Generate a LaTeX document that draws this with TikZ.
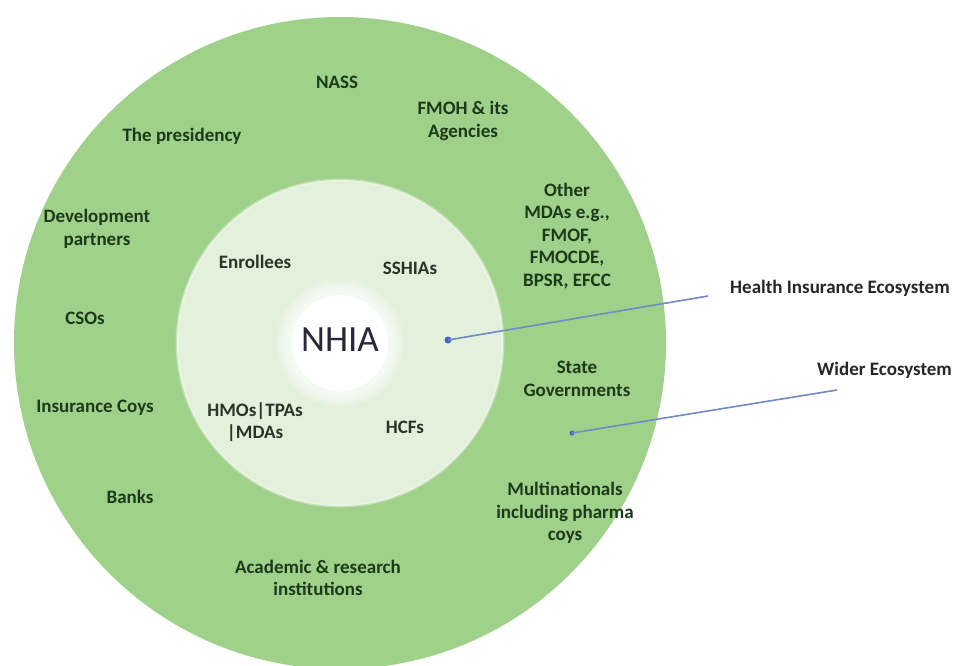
\documentclass[tikz,border=0pt]{standalone}
\usepackage{fontspec}
\setmainfont{Carlito}
\definecolor{outergreen}{RGB}{160,209,139}
\definecolor{innergreen}{RGB}{227,240,219}
\definecolor{ringtext}{RGB}{28,58,26}
\definecolor{innertext}{RGB}{40,52,38}
\definecolor{nhiatext}{RGB}{40,40,58}
\definecolor{pointerblue}{RGB}{112,138,196}
\definecolor{dotblue}{RGB}{70,100,190}
\begin{document}
\begin{tikzpicture}[x=1pt,y=-1pt,
  ringlabel/.style={font=\bfseries\fontsize{19}{22.5}\selectfont, text=ringtext, align=center, inner sep=0pt},
  innerlabel/.style={font=\bfseries\fontsize{19}{22.5}\selectfont, text=innertext, align=center, inner sep=0pt},
  sidelabel/.style={font=\bfseries\fontsize{19}{22.5}\selectfont, text=black!85, anchor=west, inner sep=0pt},
  pointer/.style={draw=pointerblue, line width=1.6pt},
  dotmark/.style={circle, fill=dotblue, inner sep=0pt, minimum size=7pt}]
\useasboundingbox (0,0) rectangle (957,665);
\fill[white] (0,0) rectangle (957,665);
\coordinate (c) at (340,343);
\fill[outergreen] (c) circle (326pt);
\fill[innergreen] (c) circle (163pt);
\draw[white, opacity=0.35, line width=3pt] (c) circle (163pt);
% soft white glow round NHIA
\foreach \r in {64,62,...,50} {\fill[white, opacity=0.16] (c) circle (\r pt);}
\fill[white] (c) circle (48pt);

% outer ring
\node[ringlabel] (nass) at (337,82) {NASS};
\node[ringlabel] (pres) at (182,136) {The presidency};
\node[ringlabel] (fmoh) at (463,121) {FMOH \& its\\Agencies};
\node[ringlabel] (mdas) at (567,236) {Other\\MDAs e.g.,\\FMOF,\\FMOCDE,\\BPSR, EFCC};
\node[ringlabel] (dev) at (97,229) {Development\\partners};
\node[ringlabel] (csos) at (85,318) {CSOs};
\node[ringlabel] (ins) at (95,408) {Insurance Coys};
\node[ringlabel] (banks) at (130,497) {Banks};
\node[ringlabel] (acad) at (318,578) {Academic \& research\\institutions};
\node[ringlabel] (multi) at (565,513) {Multinationals\\including pharma\\coys};
\node[ringlabel] (state) at (577,379) {State\\Governments};

% inner ring
\node[innerlabel] (enr) at (255,262) {Enrollees};
\node[innerlabel] (sshia) at (410,268) {SSHIAs};
\node[innerlabel] (hmo) at (255,422) {HMOs|TPAs\\|MDAs};
\node[innerlabel] (hcf) at (405,427) {HCFs};
\node[font=\fontsize{37}{40}\selectfont, text=nhiatext, inner sep=0pt] (nhia) at (340,340) {NHIA};

% side labels and pointers
\node[sidelabel] (hie) at (730,288) {Health Insurance Ecosystem};
\node[sidelabel] (wide) at (817,370) {Wider Ecosystem};
\coordinate (hieEnd) at (708,296);
\coordinate (wideEnd) at (837,390);
\node[dotmark] (hieDot) at (448,340) {};
\node[dotmark, minimum size=5pt] (wideDot) at (572,433) {};
\draw[pointer] (hieDot.center) -- (hieEnd);
\draw[pointer] (wideDot.center) -- (wideEnd);
\end{tikzpicture}
\end{document}
